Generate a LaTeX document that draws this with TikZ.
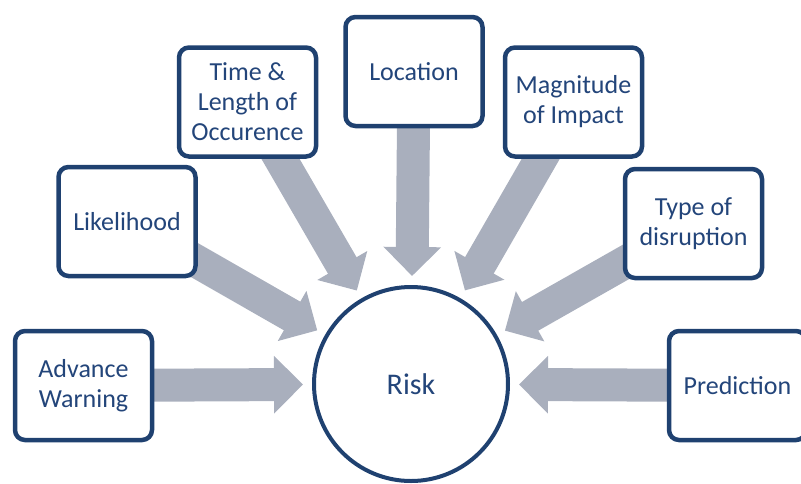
\documentclass[tikz,border=0pt]{standalone}
\usepackage{fontspec}
\setmainfont{Carlito}
\usetikzlibrary{arrows.meta,backgrounds}

\definecolor{boxblue}{HTML}{1F4170}
\definecolor{textblue}{HTML}{23457A}
\definecolor{arrowgray}{HTML}{A9AFBD}

\tikzset{
  factor/.style={draw=boxblue, line width=4.5pt, fill=white, rounded corners=10pt,
    minimum width=137pt, minimum height=109pt, align=center, text=textblue,
    font=\fontsize{26}{30}\selectfont, inner sep=0pt},
  centre/.style={circle, draw=boxblue, line width=4pt, fill=white,
    minimum size=194pt, inner sep=0pt, text=textblue, font=\fontsize{30}{34}\selectfont},
  feed/.style={draw=arrowgray, line width=33pt,
    -{Triangle[length=29pt,width=56pt]}, shorten >=9pt}
}

\begin{document}
\begin{tikzpicture}[x=1pt,y=-1pt]
  \useasboundingbox (0,0) rectangle (801,483);

  % central circle
  \node[centre] (risk) at (411,384) {Risk};

  % contributing factors, placed radially around the circle
  \node[factor] (warn) at (83.5,385.5) {Advance\\Warning};
  \node[factor] (like) at (127,221.5) {Likelihood};
  \node[factor] (time) at (247.5,102) {Time \&\\Length of\\Occurence};
  \node[factor] (loc)  at (414,71.5) {Location};
  \node[factor] (mag)  at (573.5,102) {Magnitude\\of Impact};
  \node[factor] (type) at (693.5,223.5) {Type of\\disruption};
  \node[factor] (pred) at (737.5,385.5) {Prediction};

  % block arrows behind the boxes
  \begin{pgfonlayer}{background}
    \foreach \src in {warn,like,time,loc,mag,type,pred}
      \draw[feed] (\src.center) -- (risk);
  \end{pgfonlayer}
\end{tikzpicture}
\end{document}
